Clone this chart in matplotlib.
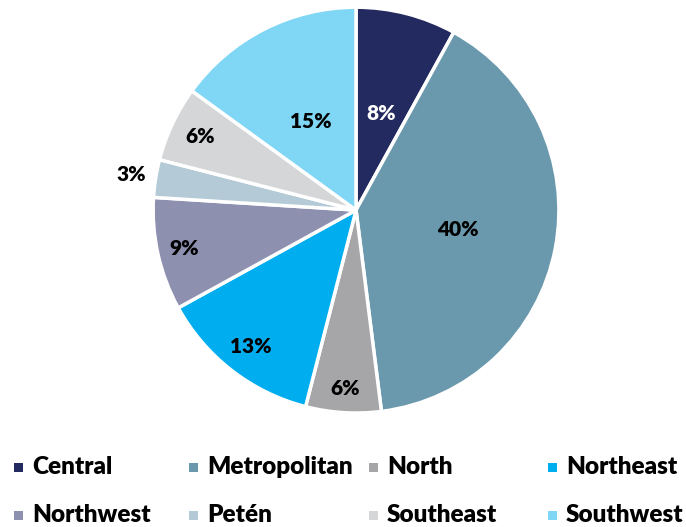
import numpy as np
import matplotlib.pyplot as plt
from matplotlib.patches import Rectangle

plt.rcParams['font.family'] = ['Lato', 'DejaVu Sans']
plt.rcParams['font.weight'] = 'bold'

regions = ['Central', 'Metropolitan', 'North', 'Northeast',
           'Northwest', 'Petén', 'Southeast', 'Southwest']
shares = [8, 40, 6, 13, 9, 3, 6, 15]
colors = ['#222A60', '#6A98AC', '#A6A6A8', '#00AEEF',
          '#8E90B0', '#B4CAD6', '#D5D6D8', '#80D6F5']
label_colors = ['white'] + ['black'] * 7
# radial position of each % label (Excel "best fit" style)
label_dist = [0.49, 0.51, 0.88, 0.85, 0.87, 1.12, 0.85, 0.49]

fig = plt.figure(figsize=(6.86, 5.27), dpi=100)
ax = fig.add_axes([0.223, 0.2163, 0.592, 0.770])

wedges, _ = ax.pie(shares, colors=colors, startangle=90, counterclock=False,
                   wedgeprops=dict(edgecolor='white', linewidth=2.5))
ax.set_xlim(-1, 1)
ax.set_ylim(-1, 1)
ax.set_aspect('equal')
ax.axis('off')

for w, val, d, c in zip(wedges, shares, label_dist, label_colors):
    ang = np.deg2rad((w.theta1 + w.theta2) / 2)
    ax.text(d * np.cos(ang), d * np.sin(ang), f'{val}%', ha='center', va='center',
            fontsize=15, fontweight='heavy', color=c)

# legend: 2 rows x 4 evenly spaced columns
col_x = [18, 193, 373, 552]
row_y = [467, 515]
W, H = 686, 527
sq = 9
for i, (name, c) in enumerate(zip(regions, colors)):
    x = col_x[i % 4]
    y = row_y[i // 4]
    fig.patches.append(Rectangle(((x - sq / 2) / W, 1 - (y + sq / 2) / H), sq / W, sq / H,
                                 transform=fig.transFigure, facecolor=c, edgecolor='none'))
    fig.text((x + 14) / W, 1 - y / H, name, ha='left', va='center',
             fontsize=17.5, fontweight='heavy', color='black')

fig.savefig('out.png', dpi=100, facecolor='white')
